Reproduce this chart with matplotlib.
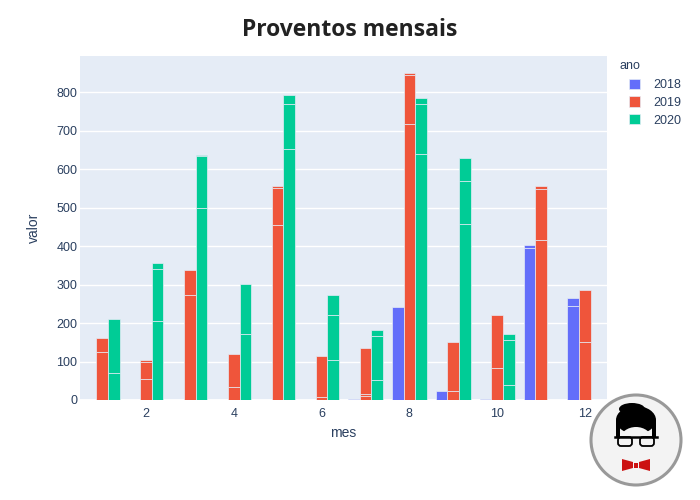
import matplotlib
matplotlib.use("Agg")
import matplotlib.pyplot as plt
from matplotlib.patches import Rectangle, Circle, Polygon, FancyBboxPatch, Ellipse
import numpy as np

# Long-form data: each row is one segment (mes, ano, valor), stacked per month/year
mes = [7, 8, 9, 10, 11, 11, 12, 12,
       1, 1, 2, 2, 2, 3, 3, 4, 4, 5, 5, 5, 6, 6, 7, 7, 7, 8, 8, 8, 9, 9, 10, 10, 11, 11, 11, 12, 12,
       1, 1, 2, 2, 2, 3, 3, 3, 4, 4, 5, 5, 5, 6, 6, 6, 7, 7, 7, 8, 8, 8, 9, 9, 9, 10, 10, 10]
ano = [2018] * 8 + [2019] * 29 + [2020] * 28
valor = [2, 241, 23, 2, 395, 7, 243, 22,
         125, 35, 54, 44, 6, 272, 67, 34, 86, 454, 98, 5, 7, 108, 10, 6, 120, 716, 128, 5,
         23, 127, 82, 138, 417, 132, 8, 150, 136,
         70, 141, 206, 135, 15, 500, 134, 4, 171, 130, 653, 117, 22, 104, 117, 52,
         52, 115, 15, 640, 130, 16, 458, 111, 59, 39, 117, 15]

anos = [2018, 2019, 2020]
cores = ["#636EFA", "#EF553B", "#00CC96"]
xticks = [2, 4, 6, 8, 10, 12]
yticks = [0, 100, 200, 300, 400, 500, 600, 700, 800]

W, H = 700, 500
fig = plt.figure(figsize=(7, 5), dpi=100)
ax = fig.add_axes([80 / W, 100 / H, 527 / W, 344 / H])
ax.set_facecolor("#E5ECF6")

bw = 0.8 / 3
for i, (a, c) in enumerate(zip(anos, cores)):
    off = (i - 1) * bw
    bottoms = {}
    for m, y, v in zip(mes, ano, valor):
        if y != a:
            continue
        b = bottoms.get(m, 0)
        ax.bar(m + off, v, width=bw, bottom=b, color=c, edgecolor="#E5ECF6",
               linewidth=0.5, zorder=3, label=str(a) if not bottoms else None)
        bottoms[m] = b + v

ax.set_xlim(0.5, 12.5)
ax.set_ylim(0, 894)
ax.set_xticks(xticks)
ax.set_yticks(yticks)
tick_font = dict(family="Liberation Sans", size=9, color="#2a3f5f")
ax.set_xticklabels([str(t) for t in xticks], **tick_font)
ax.set_yticklabels([str(t) for t in yticks], **tick_font)
ax.tick_params(axis="both", length=0)
ax.tick_params(axis="x", pad=6)
ax.tick_params(axis="y", pad=2)
ax.grid(axis="y", color="white", linewidth=1, zorder=0)
ax.axhline(0, color="white", linewidth=2, zorder=2)
for s in ax.spines.values():
    s.set_visible(False)

ax.set_xlabel("mes", family="Liberation Sans", size=10, color="#2a3f5f", labelpad=4)
ax.set_ylabel("valor", family="Liberation Sans", size=10, color="#2a3f5f", labelpad=11)

fig.text(350 / W, 1 - 30 / H, "Proventos mensais", ha="center", va="center",
         family="Open Sans", weight="bold", size=16.5, color="#222222")

# legend: title placed separately, entries indented as in plotly
fig.text(619 / W, 1 - 66 / H, "ano", ha="left", va="center",
         family="Liberation Sans", size=9, color="#2a3f5f")
leg = ax.legend(loc="upper left", bbox_to_anchor=(626 / W, 1 - 76 / H),
                bbox_transform=fig.transFigure, frameon=False,
                prop=dict(family="Liberation Sans", size=9),
                handlelength=0.9, handleheight=0.9, handletextpad=1.05,
                labelspacing=0.42, borderpad=0.2, borderaxespad=0)
for t in leg.get_texts():
    t.set_color("#2a3f5f")

# Logo overlay in pixel coordinates
lg = fig.add_axes([0, 0, 1, 1], zorder=10)
lg.set_xlim(0, W)
lg.set_ylim(H, 0)
lg.axis("off")
lg.patch.set_alpha(0)
cx, cy, r = 636, 440, 45
lg.add_patch(Circle((cx, cy), r, facecolor="#f3f3f3", edgecolor="#999999", linewidth=2.2))
# hair
lg.add_patch(Ellipse((cx, cy - 20), 40, 28, facecolor="black", edgecolor="none"))
lg.add_patch(Ellipse((cx - 4, cy - 31), 26, 12, facecolor="black", edgecolor="none"))
lg.add_patch(Rectangle((cx - 20, cy - 20), 4, 17, facecolor="black"))
lg.add_patch(Rectangle((cx + 16, cy - 20), 4, 17, facecolor="black"))
# face
lg.add_patch(Ellipse((cx, cy - 1), 31, 24, facecolor="#f3f3f3", edgecolor="none"))
# glasses
lg.add_patch(FancyBboxPatch((cx - 18, cy - 3), 14, 9, boxstyle="round,pad=0,rounding_size=3",
                            facecolor="#f3f3f3", edgecolor="black", linewidth=1.3))
lg.add_patch(FancyBboxPatch((cx + 4, cy - 3), 14, 9, boxstyle="round,pad=0,rounding_size=3",
                            facecolor="#f3f3f3", edgecolor="black", linewidth=1.3))
lg.plot([cx - 21, cx + 21], [cy - 3, cy - 3], color="black", linewidth=1.8)
# bowtie
lg.add_patch(Polygon([(cx - 14, cy + 19), (cx - 3, cy + 22), (cx - 3, cy + 28), (cx - 14, cy + 31)],
                     facecolor="#cc1111"))
lg.add_patch(Polygon([(cx + 14, cy + 19), (cx + 3, cy + 22), (cx + 3, cy + 28), (cx + 14, cy + 31)],
                     facecolor="#cc1111"))
lg.add_patch(Rectangle((cx - 2, cy + 22.5), 4, 5, facecolor="#cc1111"))

fig.savefig("out.png", dpi=100, facecolor="white")
